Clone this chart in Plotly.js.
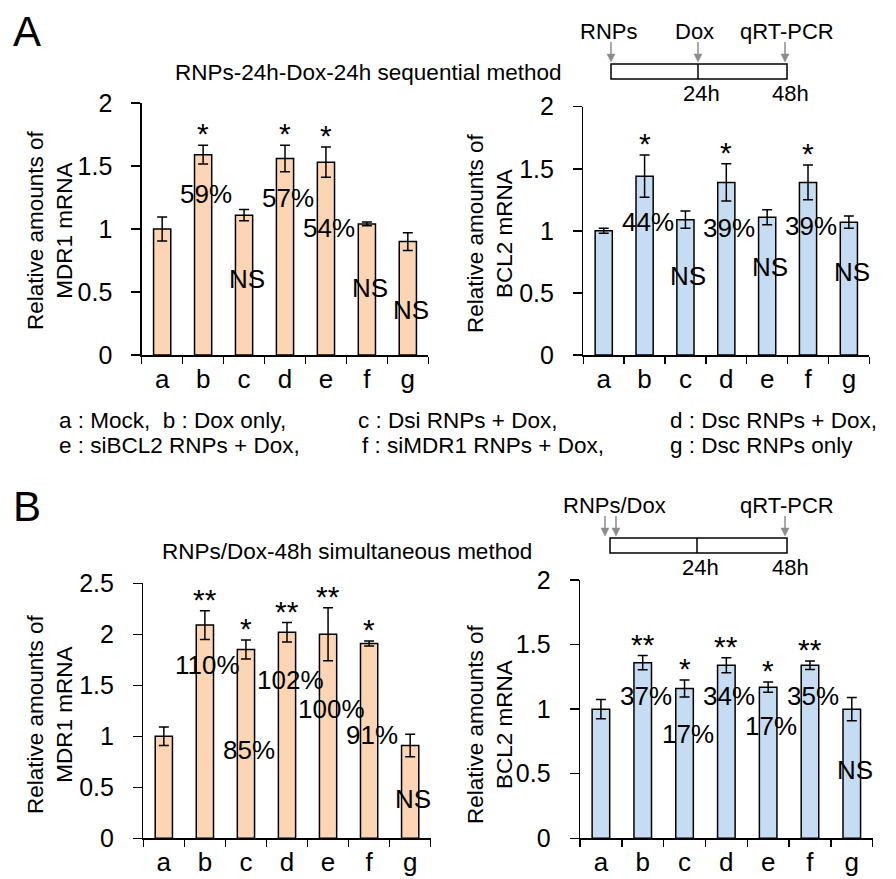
<!DOCTYPE html>
<html>
<head>
<meta charset="utf-8">
<script src="https://cdn.plot.ly/plotly-3.0.1.min.js"></script>
<style>html,body{margin:0;padding:0;background:#fff;}#chart{width:896px;height:879px;}</style>
</head>
<body>
<div id="chart"></div>
<script>
// ---------- data ----------
const categories = ['a','b','c','d','e','f','g'];

// Panel A: RNPs-24h-Dox-24h sequential method
const mdr1SeqValues = [1.00, 1.59, 1.11, 1.56, 1.53, 1.04, 0.90];
const mdr1SeqErrors = [0.095, 0.075, 0.045, 0.105, 0.12, 0.015, 0.07];
const bcl2SeqValues = [1.00, 1.44, 1.09, 1.39, 1.11, 1.39, 1.07];
const bcl2SeqErrors = [0.02, 0.17, 0.07, 0.15, 0.06, 0.14, 0.05];

// Panel B: RNPs/Dox-48h simultaneous method
const mdr1SimValues = [1.00, 2.09, 1.85, 2.02, 2.00, 1.91, 0.91];
const mdr1SimErrors = [0.09, 0.14, 0.093, 0.095, 0.26, 0.025, 0.11];
const bcl2SimValues = [1.00, 1.36, 1.16, 1.34, 1.17, 1.34, 1.00];
const bcl2SimErrors = [0.075, 0.055, 0.065, 0.058, 0.04, 0.033, 0.09];

// significance marks
const mdr1SeqSig = ['', '*', '', '*', '*', '', ''];
const bcl2SeqSig = ['', '*', '', '*', '', '*', ''];
const mdr1SimSig = ['', '**', '*', '**', '**', '*', ''];
const bcl2SimSig = ['', '**', '*', '**', '*', '**', ''];

// change labels and the data-value height at which each is written
const mdr1SeqLabels = ['', '59%', 'NS', '57%', '54%', 'NS', 'NS'];
const mdr1SeqLabelAt = [0, 1.28, 0.60, 1.25, 1.01, 0.53, 0.36];
const bcl2SeqLabels = ['', '44%', 'NS', '39%', 'NS', '39%', 'NS'];
const bcl2SeqLabelAt = [0, 1.07, 0.64, 1.02, 0.71, 1.04, 0.67];
const mdr1SimLabels = ['', '110%', '85%', '102%', '100%', '91%', 'NS'];
const mdr1SimLabelAt = [0, 1.70, 0.87, 1.55, 1.27, 1.01, 0.39];
const bcl2SimLabels = ['', '37%', '17%', '34%', '17%', '35%', 'NS'];
const bcl2SimLabelAt = [0, 1.10, 0.81, 1.10, 0.87, 1.10, 0.53];

const legendLine1 = ['a : Mock,  b : Dox only,', 'c : Dsi RNPs + Dox,', 'd : Dsc RNPs + Dox,'];
const legendLine2 = ['e : siBCL2 RNPs + Dox,', 'f : siMDR1 RNPs + Dox,', 'g : Dsc RNPs only'];

// ---------- styling / layout helpers ----------
const W = 896, H = 879;
const px = x => x / W;
const py = y => 1 - y / H;
const FONT = 'Arial, "Liberation Sans", Helvetica, sans-serif';
const ORANGE = '#FCD5B4';
const BLUE = '#C6DCF3';

function barTrace(vals, errs, color, xa, ya) {
  return {
    type: 'bar', x: categories, y: vals, xaxis: xa, yaxis: ya,
    width: 0.42,
    marker: {color: color, line: {color: '#000', width: 1.5}},
    error_y: {type: 'data', array: errs, visible: true, color: '#000', thickness: 1.5, width: 5},
    hoverinfo: 'skip', showlegend: false
  };
}

function xAxis(d0, d1, anchor) {
  return {
    domain: [px(d0), px(d1)], anchor: anchor, type: 'category',
    range: [-0.5, 6.5], showline: true, linecolor: '#000', linewidth: 1.5,
    ticks: 'outside', tickson: 'boundaries', ticklen: 7, tickwidth: 1.5, tickcolor: '#000',
    showgrid: false, zeroline: false, fixedrange: true,
    tickfont: {size: 26, color: '#000', family: FONT}
  };
}
function yAxis(top, bottom, maxv, anchor) {
  return {
    domain: [py(bottom), py(top)], anchor: anchor, range: [0, maxv],
    showline: true, linecolor: '#000', linewidth: 1.5,
    ticks: 'outside', ticklen: 9, tickwidth: 1.5, tickcolor: '#000',
    tick0: 0, dtick: 0.5, showgrid: false, zeroline: false, fixedrange: true,
    ticksuffix: '\u00A0\u00A0',
    tickfont: {size: 25, color: '#000', family: FONT}
  };
}

const traces = [
  barTrace(mdr1SeqValues, mdr1SeqErrors, ORANGE, 'x', 'y'),
  barTrace(bcl2SeqValues, bcl2SeqErrors, BLUE, 'x2', 'y2'),
  barTrace(mdr1SimValues, mdr1SimErrors, ORANGE, 'x3', 'y3'),
  barTrace(bcl2SimValues, bcl2SimErrors, BLUE, 'x4', 'y4')
];

const annotations = [];
function addMarks(vals, errs, sig, labels, labelAt, xa, ya) {
  categories.forEach((c, i) => {
    if (sig[i]) annotations.push({
      x: c, y: vals[i] + errs[i], xref: xa, yref: ya, text: sig[i], showarrow: false,
      yanchor: 'bottom', yshift: -7, font: {size: 30, color: '#000', family: FONT}
    });
    if (labels[i]) annotations.push({
      x: c, y: labelAt[i], xref: xa, yref: ya, text: labels[i], showarrow: false,
      yanchor: 'middle', xshift: 3, font: {size: 26, color: '#000', family: FONT}
    });
  });
}
addMarks(mdr1SeqValues, mdr1SeqErrors, mdr1SeqSig, mdr1SeqLabels, mdr1SeqLabelAt, 'x', 'y');
addMarks(bcl2SeqValues, bcl2SeqErrors, bcl2SeqSig, bcl2SeqLabels, bcl2SeqLabelAt, 'x2', 'y2');
addMarks(mdr1SimValues, mdr1SimErrors, mdr1SimSig, mdr1SimLabels, mdr1SimLabelAt, 'x3', 'y3');
addMarks(bcl2SimValues, bcl2SimErrors, bcl2SimSig, bcl2SimLabels, bcl2SimLabelAt, 'x4', 'y4');

function paperText(text, x, y, size, opts) {
  annotations.push(Object.assign({
    x: px(x), y: py(y), xref: 'paper', yref: 'paper', text: text, showarrow: false,
    xanchor: 'center', yanchor: 'middle', font: {size: size, color: '#000', family: FONT}
  }, opts || {}));
}
// panel letters
paperText('A', 27, 32, 42);
paperText('B', 27, 506, 42);
// panel titles
paperText('RNPs-24h-Dox-24h sequential method', 368, 72, 22.5);
paperText('RNPs/Dox-48h simultaneous method', 347, 551, 22.5);
// y-axis titles
paperText('Relative amounts of<br>MDR1 mRNA', 50, 230, 22.5, {textangle: -90});
paperText('Relative amounts of<br>BCL2 mRNA', 490, 233, 22.5, {textangle: -90});
paperText('Relative amounts of<br>MDR1 mRNA', 50, 714, 22.5, {textangle: -90});
paperText('Relative amounts of<br>BCL2 mRNA', 490, 724, 22.5, {textangle: -90});
// condition key
const keyX = [57, 356, 668];
legendLine1.forEach((t, i) => paperText(t, keyX[i], 420, 22.5, {xanchor: 'left'}));
legendLine2.forEach((t, i) => paperText(t, i === 1 ? 360 : keyX[i], 446, 22.5, {xanchor: 'left'}));
// timelines
const TL = 22;
paperText('RNPs', 608, 32, TL);
paperText('Dox', 694, 32, TL);
paperText('qRT-PCR', 787, 32, TL);
paperText('24h', 701, 93, TL);
paperText('48h', 790, 93, TL);
paperText('RNPs/Dox', 614, 505, TL);
paperText('qRT-PCR', 787, 505, TL);
paperText('24h', 700, 567, TL);
paperText('48h', 790, 567, TL);

const shapes = [];
function box(x0, y0, x1, y1, xm) {
  shapes.push({type: 'rect', xref: 'paper', yref: 'paper', x0: px(x0), x1: px(x1), y0: py(y1), y1: py(y0),
    line: {color: '#000', width: 1.5}, fillcolor: 'rgba(0,0,0,0)'});
  shapes.push({type: 'line', xref: 'paper', yref: 'paper', x0: px(xm), x1: px(xm), y0: py(y1), y1: py(y0),
    line: {color: '#000', width: 1.5}});
}
function arrow(x, yTop, yTip) {
  shapes.push({type: 'line', xref: 'paper', yref: 'paper', x0: px(x), x1: px(x), y0: py(yTop), y1: py(yTip - 6),
    line: {color: '#8c8c8c', width: 1.5}});
  shapes.push({type: 'path', xref: 'paper', yref: 'paper',
    path: `M ${px(x - 4)} ${py(yTip - 8)} L ${px(x + 4)} ${py(yTip - 8)} L ${px(x)} ${py(yTip)} Z`,
    fillcolor: '#8c8c8c', line: {color: '#8c8c8c', width: 0.5}});
}
box(611, 64, 787, 79, 698);
arrow(611, 42, 62);
arrow(698, 42, 62);
arrow(785, 42, 62);
box(610, 538, 787, 553, 697);
arrow(605, 516, 536);
arrow(616, 516, 536);
arrow(785, 516, 536);

const layout = {
  width: W, height: H,
  margin: {l: 0, r: 0, t: 0, b: 0},
  paper_bgcolor: '#fff', plot_bgcolor: 'rgba(0,0,0,0)',
  font: {family: FONT, color: '#000'},
  showlegend: false, bargap: 0.58,
  xaxis: xAxis(141.7, 428.3, 'y'),
  yaxis: yAxis(103, 355, 2, 'x'),
  xaxis2: xAxis(583.3, 869.3, 'y2'),
  yaxis2: yAxis(106.7, 355, 2, 'x2'),
  xaxis3: xAxis(143.3, 430.7, 'y3'),
  yaxis3: yAxis(583.3, 838.3, 2.5, 'x3'),
  xaxis4: xAxis(580, 872.7, 'y4'),
  yaxis4: yAxis(580, 838.3, 2, 'x4'),
  annotations: annotations,
  shapes: shapes
};

Plotly.newPlot('chart', traces, layout, {staticPlot: true, displayModeBar: false});
</script>
</body>
</html>
